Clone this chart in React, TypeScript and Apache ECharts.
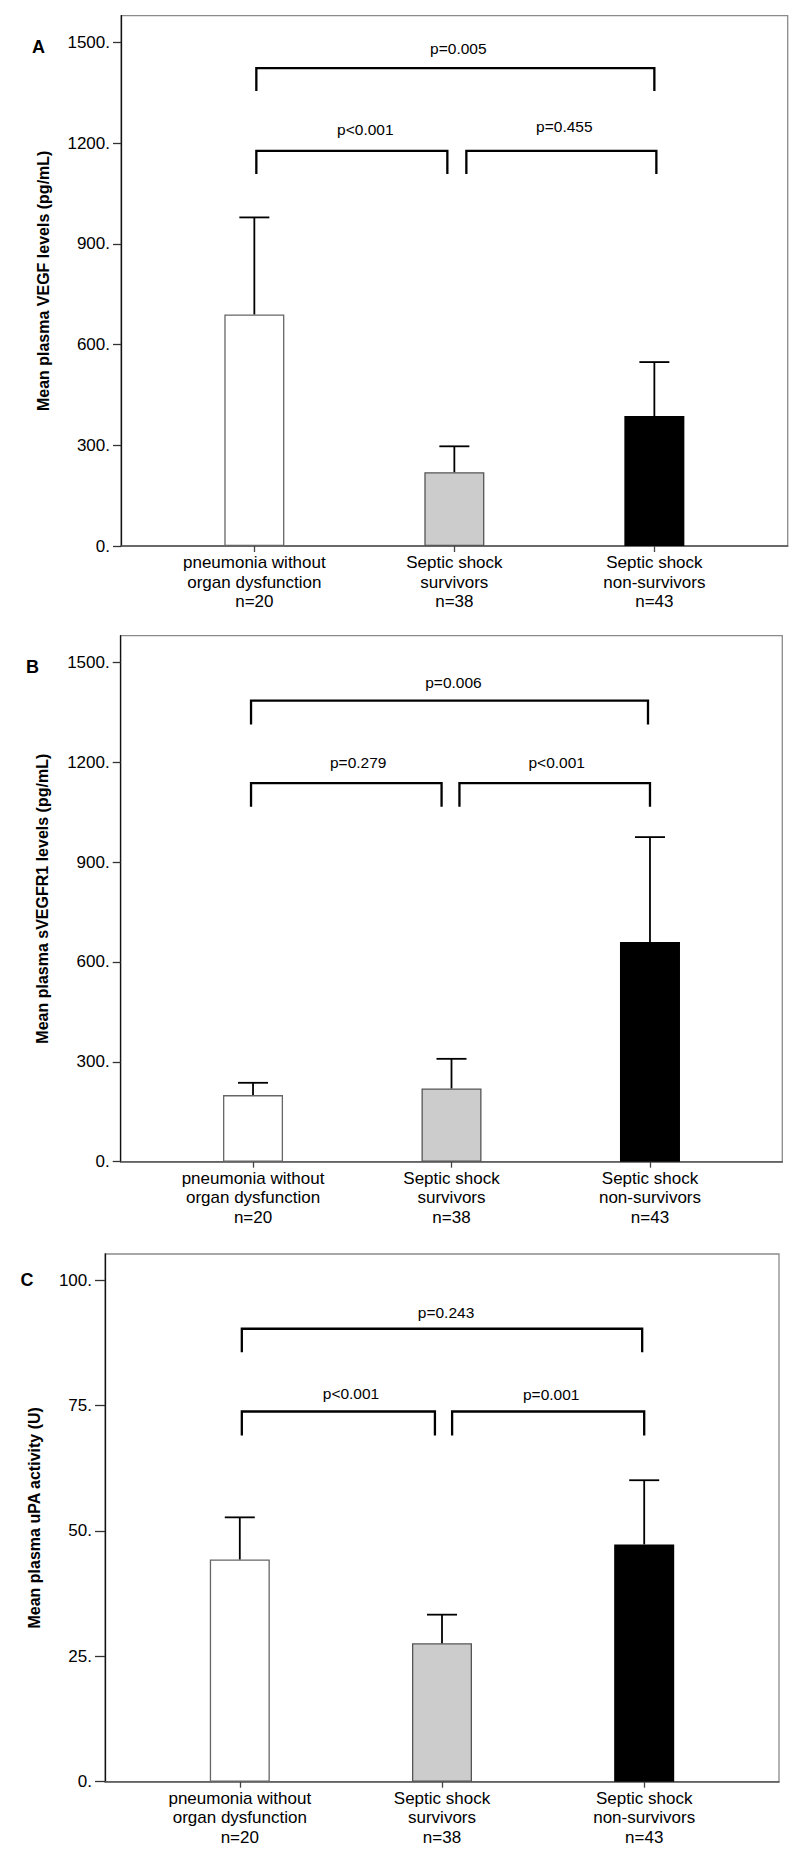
import React, { useEffect, useRef } from "react";
import * as echarts from "echarts";

// ---------- data ----------
const categories = [
  "pneumonia without\norgan dysfunction\nn=20",
  "Septic shock\nsurvivors\nn=38",
  "Septic shock\nnon-survivors\nn=43",
];
const catPos = [1, 2, 3];
const barFill = ["#ffffff", "#cccccc", "#000000"];
const barBorder = ["#666666", "#555555", "#000000"];

// Panel A: VEGF
const vegfTicks = [0, 300, 600, 900, 1200, 1500];
const vegfMean = [690, 220, 387];
const vegfUpper = [979, 297, 548];
// [x1, x2, yTop, yLeg]
const vegfBrackets = [
  [1.01, 3.0, 1424, 1356],
  [1.01, 1.965, 1177, 1108],
  [2.06, 3.01, 1177, 1108],
];
const vegfP = ["p=0.005", "p<0.001", "p=0.455"];
const vegfPPos = [
  [2.02, 1481],
  [1.555, 1242],
  [2.55, 1250],
];

// Panel B: sVEGFR1
const sflt1Ticks = [0, 300, 600, 900, 1200, 1500];
const sflt1Mean = [200, 220, 660];
const sflt1Upper = [237, 309, 975];
const sflt1Brackets = [
  [0.99, 2.99, 1385, 1313],
  [0.99, 1.95, 1137, 1066],
  [2.04, 3.0, 1137, 1066],
];
const sflt1P = ["p=0.006", "p=0.279", "p<0.001"];
const sflt1PPos = [
  [2.01, 1440],
  [1.53, 1198],
  [2.53, 1200],
];

// Panel C: uPA
const upaTicks = [0, 25, 50, 75, 100];
const upaMean = [44.3, 27.6, 47.3];
const upaUpper = [52.7, 33.3, 60.1];
const upaBrackets = [
  [1.01, 2.99, 90.3, 85.6],
  [1.01, 1.965, 73.8, 69.0],
  [2.05, 3.0, 73.8, 69.0],
];
const upaP = ["p=0.243", "p<0.001", "p=0.001"];
const upaPPos = [
  [2.02, 93.5],
  [1.55, 77.4],
  [2.54, 77.2],
];

const FONT = "'Liberation Sans', Arial, Helvetica, sans-serif";

const panels = [
  {
    letter: "A",
    letterPos: [38.5, 47],
    grid: { left: 121, top: 15.7, width: 666.7, height: 530.3 },
    yMax: 1580,
    ticks: vegfTicks,
    mean: vegfMean,
    upper: vegfUpper,
    brackets: vegfBrackets,
    pLabels: vegfP,
    pPos: vegfPPos,
    name: "Mean plasma VEGF levels (pg/mL)",
    nameGap: 70,
    tickLen: 8,
  },
  {
    letter: "B",
    letterPos: [32.5, 667],
    grid: { left: 120.7, top: 635.7, width: 661.6, height: 526 },
    yMax: 1580,
    ticks: sflt1Ticks,
    mean: sflt1Mean,
    upper: sflt1Upper,
    brackets: sflt1Brackets,
    pLabels: sflt1P,
    pPos: sflt1PPos,
    name: "Mean plasma sVEGFR1 levels (pg/mL)",
    nameGap: 70,
    tickLen: 8,
  },
  {
    letter: "C",
    letterPos: [27, 1280],
    grid: { left: 105, top: 1254, width: 674, height: 527.7 },
    yMax: 105.2,
    ticks: upaTicks,
    mean: upaMean,
    upper: upaUpper,
    brackets: upaBrackets,
    pLabels: upaP,
    pPos: upaPPos,
    name: "Mean plasma uPA activity (U)",
    nameGap: 63,
    tickLen: 10,
  },
];

function buildOption() {
  const grid: any[] = [];
  const xAxis: any[] = [];
  const yAxis: any[] = [];
  const series: any[] = [];
  const graphic: any[] = [];

  panels.forEach((p, i) => {
    grid.push({
      ...p.grid,
      show: true,
      borderColor: "#8a8a8a",
      borderWidth: 1.3,
      backgroundColor: "transparent",
    });
    xAxis.push({
      type: "value",
      gridIndex: i,
      min: 1 / 3,
      max: 11 / 3,
      splitLine: { show: false },
      axisLine: { show: true, lineStyle: { color: "#555", width: 1.5 } },
      axisTick: {
        show: true,
        customValues: catPos,
        length: 6,
        lineStyle: { color: "#444", width: 1.3 },
      },
      axisLabel: {
        customValues: catPos,
        formatter: (v: number) => categories[Math.round(v) - 1] ?? "",
        fontSize: 17,
        lineHeight: 19.5,
        margin: 7,
        color: "#000",
        fontFamily: FONT,
      },
    });
    yAxis.push({
      type: "value",
      gridIndex: i,
      min: 0,
      max: p.yMax,
      splitLine: { show: false },
      axisLine: { show: true, lineStyle: { color: "#111", width: 1.3 } },
      axisTick: {
        show: true,
        customValues: p.ticks,
        length: p.tickLen,
        lineStyle: { color: "#333", width: 1.3 },
      },
      axisLabel: {
        customValues: p.ticks,
        formatter: (v: number) => `${v}.`,
        fontSize: 17,
        margin: p.tickLen + 3,
        color: "#000",
        fontFamily: FONT,
      },
      name: p.name,
      nameLocation: "middle",
      nameRotate: 90,
      nameGap: p.nameGap,
      nameTextStyle: {
        fontSize: 16,
        fontWeight: "bold",
        color: "#000",
        fontFamily: FONT,
      },
    });

    // bars
    series.push({
      type: "bar",
      xAxisIndex: i,
      yAxisIndex: i,
      barWidth: 60,
      z: 2,
      silent: true,
      data: catPos.map((x, k) => ({
        value: [x, p.mean[k]],
        itemStyle: {
          color: barFill[k],
          borderColor: barBorder[k],
          borderWidth: 1.3,
        },
      })),
    });

    // error bars (upper only)
    series.push({
      type: "custom",
      xAxisIndex: i,
      yAxisIndex: i,
      z: 3,
      silent: true,
      encode: { x: 0, y: [1, 2] },
      data: catPos.map((x, k) => [x, p.mean[k], p.upper[k]]),
      renderItem: (params: any, api: any) => {
        const x = api.value(0);
        const a = api.coord([x, api.value(1)]);
        const b = api.coord([x, api.value(2)]);
        const st = { stroke: "#000", lineWidth: 1.8 };
        return {
          type: "group",
          children: [
            { type: "line", shape: { x1: a[0], y1: a[1], x2: b[0], y2: b[1] }, style: st },
            { type: "line", shape: { x1: b[0] - 15, y1: b[1], x2: b[0] + 15, y2: b[1] }, style: st },
          ],
        };
      },
    });

    // significance brackets
    series.push({
      type: "custom",
      xAxisIndex: i,
      yAxisIndex: i,
      z: 4,
      silent: true,
      encode: { x: [0, 1], y: [2, 3] },
      data: p.brackets,
      renderItem: (params: any, api: any) => {
        const x1 = api.value(0);
        const x2 = api.value(1);
        const yt = api.value(2);
        const yl = api.value(3);
        const pts = [
          api.coord([x1, yl]),
          api.coord([x1, yt]),
          api.coord([x2, yt]),
          api.coord([x2, yl]),
        ];
        return {
          type: "polyline",
          shape: { points: pts },
          style: { stroke: "#000", lineWidth: 2.3, fill: null },
        };
      },
    });

    // p-value labels
    const labels = p.pLabels;
    series.push({
      type: "custom",
      xAxisIndex: i,
      yAxisIndex: i,
      z: 5,
      silent: true,
      encode: { x: 0, y: 1 },
      data: p.pPos,
      renderItem: (params: any, api: any) => {
        const c = api.coord([api.value(0), api.value(1)]);
        return {
          type: "text",
          x: c[0],
          y: c[1],
          style: {
            text: labels[params.dataIndex],
            fill: "#000",
            fontSize: 15.5,
            fontFamily: FONT,
            align: "center",
            verticalAlign: "middle",
          },
        };
      },
    });

    graphic.push({
      type: "text",
      x: p.letterPos[0],
      y: p.letterPos[1],
      style: {
        text: p.letter,
        fill: "#000",
        fontSize: 18,
        fontWeight: "bold",
        fontFamily: FONT,
        align: "center",
        verticalAlign: "middle",
      },
    });
  });

  return {
    animation: false,
    backgroundColor: "#ffffff",
    grid,
    xAxis,
    yAxis,
    series,
    graphic,
  };
}

export default function App() {
  const ref = useRef<HTMLDivElement>(null);
  useEffect(() => {
    if (!ref.current) return;
    const chart = echarts.init(ref.current, undefined, { renderer: "svg" });
    chart.setOption(buildOption() as any);
    return () => chart.dispose();
  }, []);
  return (
    <div
      ref={ref}
      style={{ position: "absolute", left: 0, top: 0, width: 806, height: 1869 }}
    />
  );
}
